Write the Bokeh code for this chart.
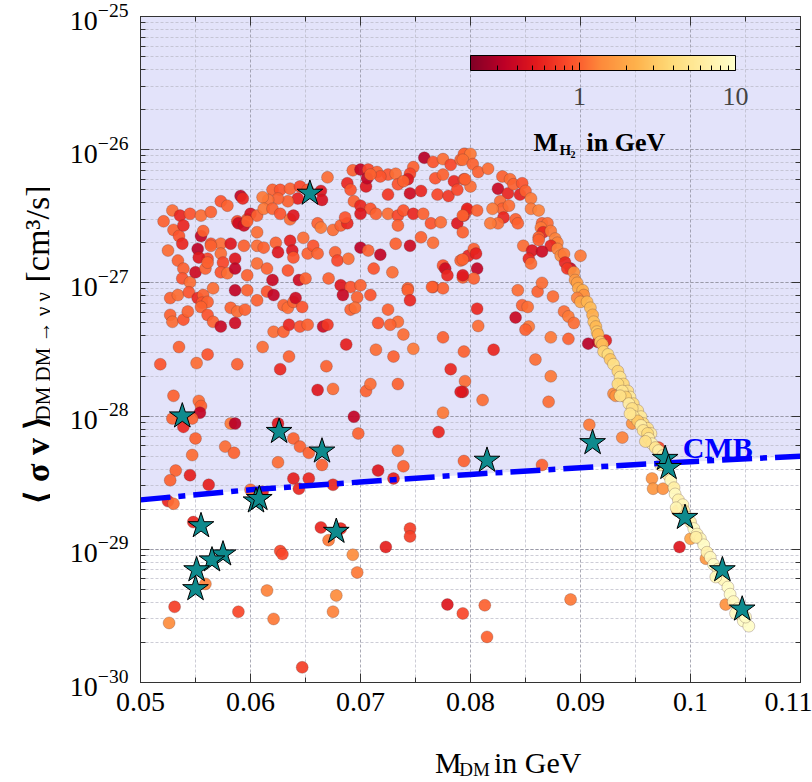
import math
import numpy as np
from bokeh.plotting import figure
from bokeh.layouts import row, column
from bokeh.models import (LogColorMapper, ColorBar, FixedTicker, LinearAxis, LogAxis,
                          Label, ColumnDataSource, BasicTickFormatter, LogTicker,
                          CustomJSTickFormatter)
from bokeh.core.properties import value
from bokeh.embed import file_html
from bokeh.resources import INLINE

# ---------------- data ----------------
mass_a = [0.0758,0.0766,0.0775,0.0782,0.0791,0.0795,0.0693,0.0700,0.0707,0.0715,
          0.0725,0.0732,0.0748,0.0745,0.0743,0.0670,0.0620,0.0627,0.0636,0.0645,
          0.0652,0.0664,0.0665,0.0643,0.0634,0.0625,0.0616,0.0611,0.0688,0.0691,
          0.0705,0.0706,0.0718,0.0709,0.0725,0.0734,0.0739,0.0745,0.0755,0.0768,
          0.0775,0.0785,0.0794,0.0800,0.0770,0.0780,0.0788,0.0591,0.0593,0.0573,
          0.0579]
sv_a = [8.7e-27,8.1e-27,8.5e-27,7.7e-27,8.4e-27,9.3e-27,7.0e-27,7.1e-27,7.1e-27,6.8e-27,
        6.5e-27,6.6e-27,7.4e-27,6.6e-27,6.0e-27,6.2e-27,5.0e-27,5.0e-27,5.1e-27,5.3e-27,
        5.0e-27,4.9e-27,4.2e-27,4.3e-27,4.1e-27,4.3e-27,4.2e-27,4.4e-27,5.6e-27,5.0e-27,
        5.3e-27,6.1e-27,6.3e-27,6.5e-27,4.6e-27,5.5e-27,5.8e-27,4.7e-27,4.9e-27,6.1e-27,
        6.5e-27,5.8e-27,6.0e-27,5.3e-27,4.6e-27,4.5e-27,5.0e-27,4.5e-27,4.3e-27,4.1e-27,
        3.8e-27]
mh2_a = [0.32,0.9,1.1,0.8,1.0,1.1,1.0,0.35,0.8,1.0,
         0.9,1.1,1.0,0.8,0.5,1.1,1.0,0.9,1.0,0.8,
         0.9,0.5,0.45,0.55,1.0,1.0,1.1,1.2,0.6,0.9,
         0.5,0.35,0.9,1.0,0.7,0.9,1.0,0.4,0.6,0.9,
         1.0,0.6,0.8,1.1,0.8,0.7,0.8,0.35,0.6,0.9,
         1.0]

mass_b = [0.0521,0.0529,0.0536,0.0545,0.0555,0.0564,0.0588,0.0597,0.0600,0.0606,
          0.0612,0.0620,0.0627,0.0636,0.0639,0.0675,0.0682,0.0688,0.0686,0.0661,
          0.0664,0.0694,0.0700,0.0709,0.0700,0.0714,0.0725,0.0734,0.0739,0.0748,
          0.0757,0.0764,0.0773,0.0788,0.0794,0.0797,0.0734,0.0793,0.0530,0.0535,
          0.0539,0.0555,0.0557,0.0564,0.0573,0.0582,0.0589,0.0594,0.0597,0.0606,
          0.0525,0.0534,0.0538,0.0552,0.0561,0.0553,0.0564,0.0573,0.0575,0.0586,
          0.0594,0.0606,0.0612,0.0623,0.0625,0.0636,0.0638,0.0639,0.0648,0.0652,
          0.0657,0.0661,0.0677,0.0679,0.0689,0.0700,0.0707,0.0718,0.0732,0.0745,
          0.0755,0.0766,0.0775,0.0791,0.0798]
sv_b = [2.9e-27,3.5e-27,3.2e-27,3.3e-27,3.2e-27,3.4e-27,2.9e-27,3.0e-27,3.3e-27,3.2e-27,
        3.6e-27,3.6e-27,3.3e-27,3.0e-27,3.2e-27,2.5e-27,2.7e-27,2.8e-27,3.1e-27,2.8e-27,
        2.6e-27,4.1e-27,3.8e-27,3.6e-27,3.3e-27,3.3e-27,3.3e-27,3.2e-27,3.5e-27,3.3e-27,
        3.3e-27,2.8e-27,2.85e-27,2.8e-27,3.2e-27,3.5e-27,2.7e-27,2.4e-27,2.5e-27,2.25e-27,
        2.7e-27,2.25e-27,2.45e-27,1.97e-27,1.97e-27,1.97e-27,2.8e-27,2.7e-27,2.9e-27,2.4e-27,
        1.75e-27,1.47e-27,1.97e-27,1.8e-27,1.52e-27,1.55e-27,1.9e-27,1.66e-27,1.42e-27,1.52e-27,
        1.9e-27,1.9e-27,1.84e-27,2.0e-27,1.7e-27,2.07e-27,1.75e-27,1.55e-27,2.18e-27,1.66e-27,
        1.9e-27,1.66e-27,1.7e-27,1.47e-27,1.52e-27,1.84e-27,1.75e-27,1.63e-27,1.97e-27,1.9e-27,
        2.2e-27,2.0e-27,1.35e-27,1.47e-27,1.6e-27]
mh2_b = [1.0,1.1,0.6,0.9,1.1,1.0,0.8,0.9,0.45,1.0,
         1.2,1.0,0.9,1.1,0.5,1.1,1.0,0.6,0.9,1.0,
         1.2,1.0,0.6,0.9,0.5,1.0,1.1,0.8,0.9,0.6,
         1.0,0.9,1.1,0.5,0.55,0.9,1.0,1.0,1.0,0.9,
         0.6,0.35,1.0,0.9,1.1,0.5,0.4,0.4,1.0,1.1,
         1.1,1.0,0.6,0.33,0.8,0.5,1.0,1.1,0.8,0.5,
         1.0,1.1,1.0,1.0,0.5,0.55,0.5,0.9,1.1,1.0,
         0.9,1.0,1.0,0.8,1.1,0.33,1.0,0.35,1.0,0.4,
         1.0,1.1,0.9,1.0,0.6]

mass_c = [0.0539,0.0538,0.0545,0.0550,0.0559,0.0561,0.0573,0.0579,0.0586,0.0597,
          0.0606,0.0615,0.0620,0.0634,0.0644,0.0650,0.0671,0.0682,0.0691,0.0700,
          0.0712,0.0729,0.0743,0.0766,0.0775,0.0777,0.0779,0.0793,0.0527,0.0534,
          0.0544,0.0552,0.0557,0.0556,0.0561,0.0566,0.0586,0.0597,0.0606,0.0615,
          0.0621,0.0630,0.0634,0.0639,0.0641,0.0647,0.0666,0.0684,0.0697,0.0709,
          0.0725,0.0734,0.0743,0.0745,0.0765,0.0527,0.0529,0.0539,0.0543,0.0555,
          0.0561,0.0566,0.0573,0.0582,0.0588,0.0586,0.0595,0.0621,0.0630,0.0635,
          0.0645,0.0652,0.0670,0.0691,0.0695,0.0716,0.0727,0.0739]
sv_c = [1.28e-27,1.08e-27,1.01e-27,1.2e-27,1.28e-27,1.42e-27,1.2e-27,1.18e-27,1.28e-27,1.14e-27,
        1.4e-27,1.28e-27,1.05e-27,1.24e-27,1.05e-27,1.08e-27,1.08e-27,9.6e-28,9.3e-28,9.6e-28,
        1.28e-27,1.2e-27,9.1e-28,9.3e-28,9.1e-28,1.28e-27,1.14e-27,1.1e-27,7.7e-28,8.1e-28,
        8.5e-28,7.7e-28,8.1e-28,7.1e-28,7.2e-28,9.1e-28,8.8e-28,8.8e-28,7.4e-28,8.6e-28,
        8.1e-28,6.8e-28,6.5e-28,7.2e-28,7.7e-28,6.6e-28,4.7e-28,8.1e-28,7.8e-28,8.1e-28,
        6.3e-28,5.1e-28,8.8e-28,7.4e-28,9.3e-28,5.75e-28,5.1e-28,5.3e-28,6.1e-28,6.6e-28,
        5.75e-28,5.1e-28,4.7e-28,6.5e-28,6.1e-28,5.0e-28,6.3e-28,4.3e-28,4.3e-28,4.85e-28,
        4.7e-28,4.85e-28,4.85e-28,6.3e-28,6.5e-28,5.0e-28,4.85e-28,4.1e-28]
mh2_c = [1.0,0.9,1.1,0.4,1.0,1.0,0.9,1.1,0.35,1.0,
         1.1,1.0,0.38,0.9,0.4,1.0,1.0,0.5,0.9,1.0,
         0.9,1.1,1.0,0.8,1.0,0.4,0.6,1.0,1.0,1.1,
         0.9,0.6,1.0,0.9,1.0,1.1,0.35,1.0,1.0,0.9,
         0.35,1.0,1.1,1.0,0.4,0.9,0.4,0.38,1.0,0.9,
         1.0,1.1,1.0,0.6,1.0,1.0,1.1,0.9,1.0,1.0,
         0.9,1.0,0.38,1.0,1.1,0.4,1.0,1.1,1.0,0.6,
         0.9,1.0,0.7,1.0,1.1,0.9,1.0,1.1]

mass_d = [0.0794,0.0800,0.0793,0.0802,0.0807,0.0816,0.0795,0.0797,0.0806,0.0793,
          0.0825,0.0829,0.0836,0.0834,0.0839,0.0847,0.0845,0.0850,0.0855,0.0827,
          0.0829,0.0835,0.0820,0.0841,0.0843,0.0830,0.0825,0.0818,0.0855,0.0862,
          0.0865,0.0870,0.0864,0.0866,0.0862,0.0873,0.0877,0.0879,0.0873,0.0848,
          0.0856,0.0853,0.0855,0.0865,0.0862,0.0891,0.0900,0.0916,0.0923,0.0907,
          0.0843,0.0861,0.0875,0.0847,0.0852,0.0841,0.0853,0.0850,0.0885,0.0889,
          0.0894,0.0873,0.0889,0.0859,0.0873,0.0871,0.0930,0.0806,0.0807,0.0821,
          0.0811,0.0795,0.0793,0.0803,0.0805,0.0806,0.0803,0.0865,0.0793,0.0793,
          0.0794]
sv_d = [9.3e-27,9.3e-27,8.4e-27,7.8e-27,6.8e-27,7.2e-27,6.0e-27,3.6e-27,3.5e-27,3.2e-27,
        5.1e-27,6.3e-27,6.0e-27,4.7e-27,5.5e-27,5.6e-27,4.6e-27,4.9e-27,4.3e-27,4.1e-27,
        3.6e-27,3.8e-27,3.6e-27,3.0e-27,2.8e-27,3.1e-27,2.8e-27,2.8e-27,3.6e-27,3.5e-27,
        2.8e-27,2.8e-27,2.6e-27,2.4e-27,2.2e-27,2.45e-27,2.15e-27,2.0e-27,1.9e-27,1.9e-27,
        1.75e-27,1.52e-27,1.4e-27,1.72e-27,2.1e-27,1.28e-27,1.6e-27,3.6e-28,3.7e-28,3.5e-28,
        8.8e-28,8.6e-28,7.9e-28,6.8e-28,6.6e-28,5.5e-28,4.7e-28,4.45e-28,6.1e-28,5.6e-28,
        5.0e-28,3.9e-28,3.8e-28,2.66e-28,1.99e-28,1.28e-28,1.47e-28,6.4e-28,4.75e-28,3.15e-28,
        1.32e-28,1.83e-28,1.52e-28,1.8e-27,1.66e-27,1.28e-27,1.08e-27,1.0e-27,1.5e-27,1.14e-27,
        3.05e-28]
mh2_d = [1.0,1.2,1.1,1.0,1.0,1.1,1.0,0.55,1.0,1.0,
         0.38,1.0,1.1,0.6,1.0,0.9,0.55,1.0,1.2,1.1,
         1.0,1.1,1.2,1.0,1.0,0.6,1.1,1.2,1.2,1.3,
         1.0,1.1,1.2,0.6,1.0,1.2,1.3,1.3,0.6,1.1,
         0.5,0.6,1.1,0.4,1.0,0.38,1.2,0.45,0.55,0.32,
         1.1,1.0,1.1,1.0,1.1,0.38,1.2,1.0,1.1,1.2,
         1.1,1.2,1.0,1.1,1.2,1.1,1.4,0.6,1.1,0.6,
         1.1,1.1,0.5,1.0,0.55,0.35,1.0,1.1,1.0,0.5,
         1.0]

mass_e = [0.0535,0.0551,0.0561,0.0588,0.0611,0.0627,0.0635,0.0669,0.0687,0.0714,
          0.0730,0.0748,0.0775,0.0518,0.0782,0.0530,0.0553,0.0555,0.0554,0.0529,
          0.0539,0.0547,0.0550,0.0547,0.0532,0.0527,0.0545,0.0562,0.0525,0.0530,
          0.0582,0.0586,0.0577,0.0585,0.0625,0.0639,0.0645,0.0653,0.0625,0.0639,
          0.0644,0.0653,0.0665,0.0661,0.0675,0.0694,0.0698,0.0675,0.0705,0.0709,
          0.0734,0.0716,0.0730,0.0739,0.0734,0.0771,0.0775,0.0791,0.0794]
sv_e = [3.3e-28,2.5e-28,2.9e-28,2.45e-28,3.3e-28,2.25e-28,2.8e-28,2.37e-28,3.45e-28,3.15e-28,
        2.8e-28,3.2e-28,3.9e-28,2.45e-28,2.25e-28,1.42e-28,1.3e-28,1.19e-28,1.06e-28,9.6e-29,
        8.3e-29,9.6e-29,6.8e-29,5.1e-29,3.9e-29,3.3e-29,3.6e-29,3.05e-29,2.3e-29,2.2e-29,
        8.8e-29,8.8e-29,5.9e-29,5.3e-29,8.8e-29,6.8e-29,5.9e-29,5.3e-29,4.5e-29,3.4e-29,
        2.85e-29,3.4e-29,4.3e-29,1.57e-28,1.6e-28,9.9e-29,7.4e-29,3.05e-29,1.54e-28,1.74e-28,
        1.74e-28,3.9e-29,3.4e-29,4.2e-29,5.5e-29,7.6e-29,1.06e-28,1.52e-28,4.6e-29]
mh2_e = [1.0,1.1,0.9,1.0,1.1,0.6,1.0,1.0,0.55,1.1,
         1.0,1.2,1.0,0.9,0.6,1.0,1.1,1.0,0.35,1.0,
         0.6,1.0,1.0,1.1,1.0,1.0,0.55,0.55,0.6,1.1,
         1.2,0.32,1.1,1.0,0.5,1.0,1.0,1.0,1.1,0.55,
         0.6,0.6,1.0,0.5,1.1,0.35,1.0,0.6,1.0,1.1,
         1.0,0.5,0.55,1.0,1.1,0.6,1.2,0.5,1.0]

mass_f = [0.0600,0.0611,0.0548,0.0664,0.0671,0.0682,0.0723,0.0745,0.0745,0.0627,
          0.0629,0.0693,0.0697,0.0615,0.0678,0.0675,0.0621,0.0589,0.0531,0.0526,
          0.0559,0.0779,0.0793,0.0813,0.0815,0.0647,0.0865,0.0891]
sv_f = [2.8e-29,2.7e-29,1.6e-29,1.46e-29,1.17e-29,1.43e-29,1.04e-29,1.43e-29,1.25e-29,9.7e-30,
        9.2e-30,9.1e-30,6.7e-30,4.9e-30,4.5e-30,3.4e-30,3.0e-30,3.4e-30,3.7e-30,2.8e-30,
        5.5e-30,3.85e-30,3.3e-30,3.8e-30,2.2e-30,1.3e-30,4.3e-29,4.2e-30]
mh2_f = [1.1,0.55,0.6,0.6,1.2,0.6,0.55,0.75,0.75,0.8,
         0.8,1.4,1.2,1.3,1.4,1.3,1.2,0.8,0.75,1.4,
         1.3,0.5,0.8,1.0,1.0,0.75,1.0,1.2]

mass_band = [0.0879,0.0882,0.0885,0.0886,0.0888,0.0894,0.0895,0.0897,0.0898,0.0902,
             0.0903,0.0897,0.0900,0.0906,0.0909,0.0911,0.0912,0.0914,0.0915,0.0916,
             0.0918,0.0920,0.0921,0.0925,0.0927,0.0930,0.0934,0.0936,0.0939,0.0943,
             0.0945,0.0948,0.0952,0.0955,0.0957,0.0961,0.0964,
             0.0934,0.0938,0.0941,0.0944,0.0947,0.0948,0.0952,0.0955,0.0957,0.0961,
             0.0962,0.0965,0.0968,0.0971,0.0975,0.0977,0.0979,0.0980,0.0982,0.0985,
             0.0986,0.0989,0.0993,0.0994,0.0997,0.1000,0.1003,0.1006,0.1009,0.1012,
             0.1015,0.1018,0.1021,0.1025,0.1027,0.1030,0.1034,0.1036,0.1039,0.1043,
             0.1045,0.1048,0.0936,0.0945,0.0959,0.0973,0.0987,0.1005,0.1023,0.1041,
             0.1053,0.1050]
sv_band = [1.8e-27,1.6e-27,1.65e-27,1.42e-27,1.28e-27,1.2e-27,1.05e-27,1.0e-27,9.1e-28,8.8e-28,
           8.1e-28,7.7e-28,7.2e-28,7.2e-28,6.5e-28,5.75e-28,5.1e-28,4.7e-28,4.3e-28,4.1e-28,
           3.6e-28,3.45e-28,3.05e-28,2.9e-28,2.66e-28,2.45e-28,2.17e-28,1.96e-28,1.74e-28,1.54e-28,
           1.39e-28,1.24e-28,1.1e-28,9.9e-29,8.8e-29,8.1e-29,7.4e-29,
           1.74e-28,1.54e-28,1.39e-28,1.24e-28,1.14e-28,1.0e-28,9.2e-29,8.5e-29,7.8e-29,7.4e-29,
           6.8e-29,6.2e-29,5.8e-29,5.5e-29,5.05e-29,4.5e-29,4.1e-29,3.6e-29,3.3e-29,2.9e-29,
           2.6e-29,2.35e-29,2.16e-29,1.95e-29,1.74e-29,1.6e-29,1.43e-29,1.3e-29,1.2e-29,1.08e-29,
           9.5e-30,8.7e-30,7.7e-30,7.1e-30,6.5e-30,5.9e-30,5.2e-30,4.6e-30,4.05e-30,3.6e-30,
           3.25e-30,2.9e-30,1.42e-28,1.04e-28,6.45e-29,4.3e-29,2.05e-29,1.23e-29,6.2e-30,3.3e-30,
           2.65e-30,3.1e-30]
mh2_band = [1.3,1.4,1.2,0.6,0.7,1.5,1.6,1.8,2.0,2.2,
            1.5,1.3,2.0,2.4,2.6,2.2,2.8,2.5,3.0,2.4,
            3.2,2.6,3.5,4.0,3.0,4.5,3.6,5.0,3.8,4.4,
            5.5,4.0,4.8,5.5,4.2,5.0,6.0,
            4.0,5.0,3.5,6.0,4.5,5.5,3.0,6.5,5.0,4.0,
            6.0,7.0,5.0,6.5,7.0,5.5,7.5,6.0,8.0,6.5,
            8.5,7.0,8.0,6.0,8.5,7.0,9.0,7.5,8.0,9.0,
            7.0,8.5,9.0,7.5,9.5,8.0,9.0,9.5,8.5,9.0,
            9.8,9.5,4.5,5.0,4.5,6.0,7.5,6.5,8.0,8.5,
            9.5,9.0]

mass_h = [0.0932,0.0947,0.0959,0.0971,0.0965,0.0966,0.0975,0.0988,0.1000,0.1014,0.1032,0.0990,0.0908,0.0938]
sv_h = [1.42e-28,8.8e-29,8.1e-29,5.8e-29,3.4e-29,2.85e-29,2.85e-29,1.95e-29,1.2e-29,8.5e-30,3.85e-30,1.04e-29,8.6e-29,6.9e-29]
mh2_h = [1.5,1.5,1.3,0.8,1.5,1.6,1.5,1.8,2.0,1.6,1.5,0.5,1.2,1.3]

star_mass = [0.0538,0.0654,0.0626,0.0665,0.0605,0.0608,0.0555,0.0678,0.0575,0.0565,
             0.0551,0.0550,0.0911,0.0815,0.0977,0.0980,0.0995,0.1029,0.1047]
star_sv = [1.0e-28,4.7e-27,7.65e-29,5.45e-29,2.3e-29,2.4e-29,1.5e-29,1.36e-29,9.2e-30,8.3e-30,
           7.0e-30,5.05e-30,6.3e-29,4.65e-29,4.8e-29,4.1e-29,1.73e-29,7.0e-30,3.55e-30]

cmb_mass = [0.05, 0.06, 0.07, 0.08, 0.09, 0.10, 0.11]
cmb_sv = [2.35e-29, 2.8e-29, 3.2e-29, 3.65e-29, 4.1e-29, 4.55e-29, 5.0e-29]

x_ticks = [0.05, 0.06, 0.07, 0.08, 0.09, 0.1, 0.11]
x_tick_labels = ["0.05", "0.06", "0.07", "0.08", "0.09", "0.1", "0.11"]
x_minor_ticks = [0.055, 0.065, 0.075, 0.085, 0.095, 0.105]
cbar_ticks = [1, 10]
cbar_minor_ticks = [0.3, 0.4, 0.5, 0.6, 0.7, 0.8, 0.9, 2, 3, 4, 5, 6, 7, 8, 9]

# ---------------- assemble ----------------
mass = mass_a + mass_b + mass_c + mass_d + mass_e + mass_f + mass_h + mass_band
sv = sv_a + sv_b + sv_c + sv_d + sv_e + sv_f + sv_h + sv_band
mh2 = mh2_a + mh2_b + mh2_c + mh2_d + mh2_e + mh2_f + mh2_h + mh2_band
src = ColumnDataSource(dict(x=mass, y=sv, m=mh2))

base = ["#800026", "#bd0026", "#e31a1c", "#fc4e2a", "#fd8d3c",
        "#feb24c", "#fed976", "#ffeda0", "#ffffcc"]
rgb = np.array([[int(c[i:i + 2], 16) for i in (1, 3, 5)] for c in base], float)
pos = np.linspace(0, 1, len(base))
palette = ["#%02x%02x%02x" % tuple(int(round(np.interp(t, pos, rgb[:, k]))) for k in range(3))
           for t in np.linspace(0, 1, 256)]
mapper = LogColorMapper(palette=palette, low=0.2, high=10)

SERIF = "Liberation Serif"
AX = "#333333"
LEFT_W = 50      # width of the strip holding the y-axis title
BOTTOM_H = 48    # height of the strip holding the x-axis title
W, H = 812, 782
MAIN_W, MAIN_H = W - LEFT_W, H - BOTTOM_H

# ---------------- main plot ----------------
p = figure(width=MAIN_W, height=MAIN_H, x_range=(0.05, 0.11), y_range=(1e-30, 1e-25),
           y_axis_type="log", output_backend="svg", toolbar_location=None,
           min_border_left=140 - LEFT_W, min_border_right=12, min_border_top=16,
           min_border_bottom=MAIN_H - 682)
p.background_fill_color = "white"
p.border_fill_color = "white"
p.outline_line_color = AX

xt = FixedTicker(ticks=x_ticks, minor_ticks=x_minor_ticks)
p.xaxis.ticker = xt
p.xgrid.ticker = xt
p.xaxis.major_label_overrides = dict(zip(x_ticks, x_tick_labels))

for ax in (p.xaxis[0], p.yaxis[0]):
    ax.major_tick_in = 9
    ax.major_tick_out = 0
    ax.minor_tick_in = 5
    ax.minor_tick_out = 0
    ax.axis_line_color = AX
    ax.major_tick_line_color = AX
    ax.minor_tick_line_color = AX
    ax.major_label_text_color = "black"
    ax.major_label_text_font = SERIF
    ax.major_label_text_font_size = "28px"
p.xaxis.major_label_standoff = 10
p.yaxis.major_label_standoff = 12

right_ax = LogAxis(ticker=LogTicker(), formatter=CustomJSTickFormatter(code="return ''"),
                   major_label_standoff=0,
                   major_tick_in=9, major_tick_out=0, minor_tick_in=5, minor_tick_out=0,
                   axis_line_color=AX, major_tick_line_color=AX, minor_tick_line_color=AX)
p.add_layout(right_ax, "right")
top_ax = LinearAxis(ticker=xt, formatter=CustomJSTickFormatter(code="return ''"),
                    major_label_standoff=0,
                    major_tick_in=9, major_tick_out=0, minor_tick_in=5, minor_tick_out=0,
                    axis_line_color=AX, major_tick_line_color=AX, minor_tick_line_color=AX)
p.add_layout(top_ax, "above")

for g in (p.xgrid[0], p.ygrid[0]):
    g.grid_line_color = "#8e8e9c"
    g.grid_line_dash = "3 2"
    g.grid_line_alpha = 0.75
    g.minor_grid_line_color = "#b8b8c4"
    g.minor_grid_line_dash = "3 2"
    g.minor_grid_line_alpha = 0.7

# excluded (shaded) region above the CMB bound
shade_x = cmb_mass + [cmb_mass[-1], cmb_mass[0]]
shade_y = cmb_sv + [1e-25, 1e-25]
p.patch(shade_x, shade_y, fill_color="#e3e3fa", line_color=None, level="image")

p.scatter("x", "y", source=src, size=12, marker="circle",
          fill_color={"field": "m", "transform": mapper}, fill_alpha=0.92,
          line_color="#5a3a3a", line_alpha=0.45, line_width=0.6)

p.line(cmb_mass, cmb_sv, line_color="#0000ff", line_width=5.5, line_dash="30 8 7 8")

p.scatter(star_mass, star_sv, marker="star", size=27, fill_color="#0e8a8d",
          line_color="black", line_width=1)

p.add_layout(Label(x=0.0993, y=5.8e-29, text="CMB", text_color="#0000ff",
                   text_font=SERIF, text_font_size="30px", text_font_style="bold",
                   text_align="left", text_baseline="alphabetic"))

cb = ColorBar(color_mapper=mapper, orientation="horizontal", width=265, height=15,
              location=(330, 575), padding=0, margin=0,
              ticker=FixedTicker(ticks=cbar_ticks, minor_ticks=cbar_minor_ticks),
              formatter=BasicTickFormatter(),
              major_label_text_font=SERIF, major_label_text_font_size="26px",
              label_standoff=17,
              major_tick_line_color="black", major_tick_in=8, major_tick_out=0,
              minor_tick_line_color="black", minor_tick_in=5, minor_tick_out=0,
              bar_line_color="black", bar_line_width=1,
              background_fill_alpha=0, border_line_color=None)
p.add_layout(cb)


def lab(x, y, text, size, style="normal"):
    p.add_layout(Label(x=x, y=y, x_units="screen", y_units="screen", text=text,
                       text_font=SERIF, text_font_size=size, text_font_style=style,
                       text_align="left", text_baseline="alphabetic", text_color="black"))


# colour bar title  M_{H_2} in GeV
lab(393, 540, "M", "26px", "bold")
lab(419, 533, "H", "15px", "bold")
lab(430, 528, "2", "10px", "bold")
lab(446, 540, "in GeV", "26px", "bold")


def strip(width, height):
    f = figure(width=width, height=height, x_range=(0, width), y_range=(0, height),
               output_backend="svg", toolbar_location=None, title=None,
               x_axis_location=None, y_axis_location=None, min_border=0)
    f.grid.visible = False
    f.outline_line_color = None
    f.background_fill_color = "white"
    f.border_fill_color = "white"
    return f


def txt(f, x, y, text, size, style="normal", angle=0.0):
    f.text(x=[x], y=[y], text=[text], angle=angle, text_font=value(SERIF),
           text_font_size=value(size), text_font_style=style, text_color="black",
           text_align="left", text_baseline="alphabetic")


# y axis title  <sigma v>_{DM DM -> gamma gamma} [cm^3/s]   (strip coordinates = pixels)
pl = strip(LEFT_W, H)
R = math.pi / 2
txt(pl, 37, H - 503, "⟨ σ v ⟩", "34px", "bold", R)
txt(pl, 42, H - 420, "DM DM → γ γ", "21px", "normal", R)
txt(pl, 37, H - 282, "[cm³/s]", "34px", "normal", R)

# x axis title  M_DM in GeV   (strip coordinates = pixels from its bottom-left)
pb = strip(MAIN_W, BOTTOM_H)
txt(pb, 390 - LEFT_W, 20, "M", "30px")
txt(pb, 418 - LEFT_W, 13, "DM", "19px")
txt(pb, 458 - LEFT_W, 20, "in GeV", "30px")

layout = row(pl, column(p, pb))
open("out.html", "w").write(file_html(layout, INLINE))
